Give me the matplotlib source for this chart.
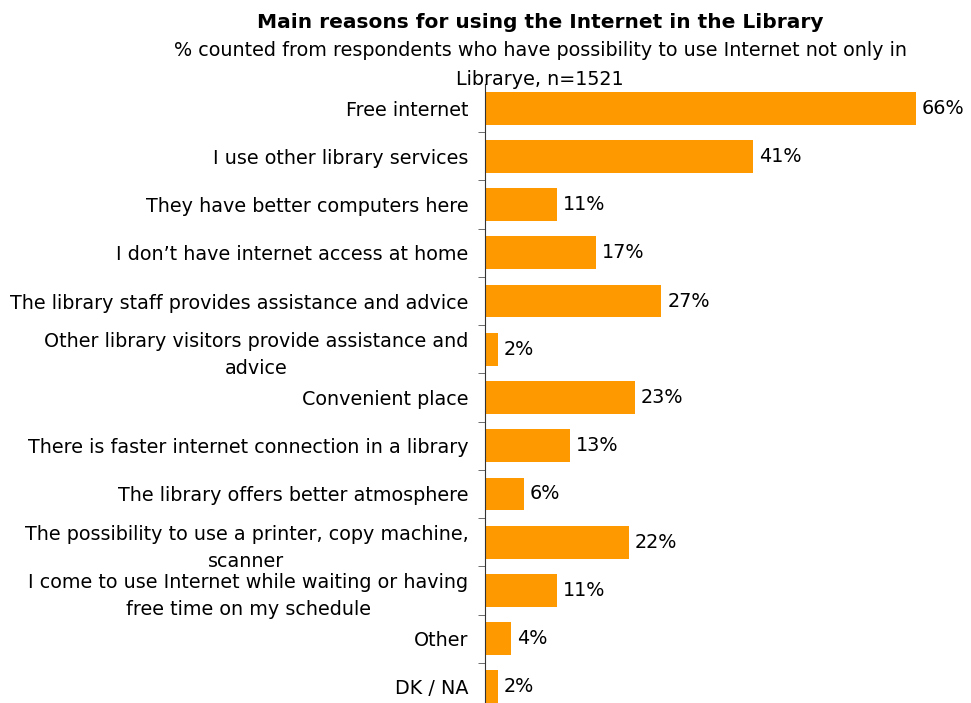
import matplotlib.pyplot as plt

# motivos y porcentajes
reasons = [
    "Free internet",
    "I use other library services",
    "They have better computers here",
    "I don\u2019t have internet access at home",
    "The library staff provides assistance and advice",
    "Other library visitors provide assistance and\nadvice",
    "Convenient place",
    "There is faster internet connection in a library",
    "The library offers better atmosphere",
    "The possibility to use a printer, copy machine,\nscanner",
    "I come to use Internet while waiting or having\nfree time on my schedule",
    "Other",
    "DK / NA",
]
values = [66, 41, 11, 17, 27, 2, 23, 13, 6, 22, 11, 4, 2]

fs = 13.8

fig = plt.figure(figsize=(9.71, 7.03), dpi=100)
ax = fig.add_axes([485 / 971, -8 / 703, (916 - 485) / 971, 627 / 703])

pos = list(range(len(reasons)))
ax.barh(pos, values, height=0.68, color="#FF9900")
ax.set_ylim(len(reasons) - 0.5, -0.5)
ax.set_xlim(0, 66)

for p, v in zip(pos, values):
    ax.text(v + 0.9, p, f"{v}%", va="center", ha="left", fontsize=fs, clip_on=False)

ax.set_yticks(pos)
ax.set_yticklabels(reasons, fontsize=fs, multialignment="center", linespacing=1.5)
ax.tick_params(axis="y", length=0, pad=12)
ax.set_yticks([p + 0.5 for p in pos[:-1]], minor=True)
ax.tick_params(axis="y", which="minor", length=5, color="#555555")
ax.set_xticks([])
for s in ["top", "right", "bottom"]:
    ax.spines[s].set_visible(False)
ax.spines["left"].set_color("#333333")

fig.text(540 / 971, 1 - 22 / 703, "Main reasons for using the Internet in the Library",
         ha="center", va="center", fontsize=14.5, fontweight="bold")
fig.text(540 / 971, 1 - 65 / 703,
         "% counted from respondents who have possibility to use Internet not only in\nLibrarye, n=1521",
         ha="center", va="center", fontsize=fs, linespacing=1.65)

plt.savefig("out.png", dpi=100)
